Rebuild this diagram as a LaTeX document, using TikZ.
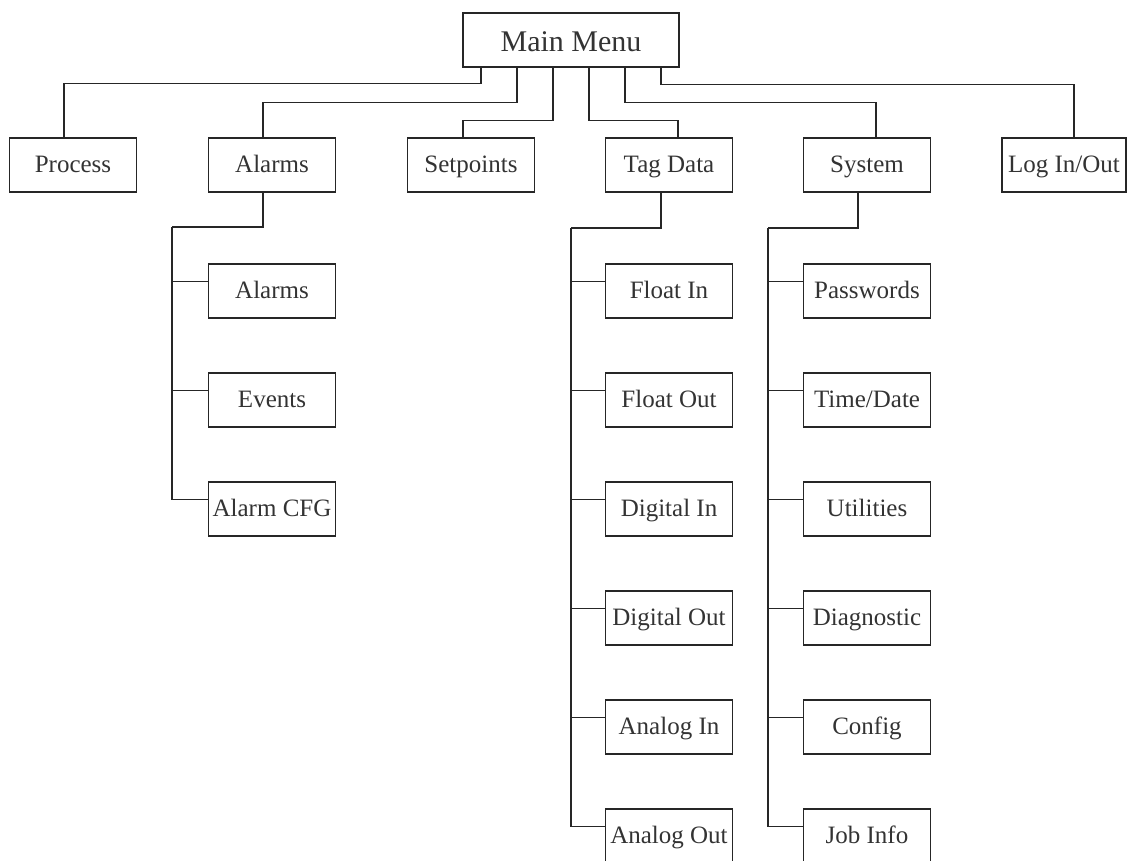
\documentclass[tikz,border=0pt]{standalone}
\usepackage{fontspec}
\setmainfont{Liberation Serif}
\usepackage{tikz}

\begin{document}
\begin{tikzpicture}[x=1pt,y=-1pt,
	menubox/.style={rectangle,draw=black!85,line width=1.2pt,minimum width=127pt,minimum height=54pt,inner sep=0pt,text height=18pt,text depth=4pt,text=black!80,font=\fontsize{25}{30}\selectfont},
	link/.style={draw=black!85,line width=1.2pt}]
		\useasboundingbox (0,0) rectangle (1127,860);

		\node[menubox,minimum width=216pt,text height=24pt,text depth=1pt,font=\fontsize{30}{36}\selectfont] (main) at (571,40) {Main Menu};

		\node[menubox] (process) at (73,165) {Process};
		\node[menubox] (alarms) at (272,165) {Alarms};
		\node[menubox] (setpoints) at (471,165) {Setpoints};
		\node[menubox] (tagdata) at (669,165) {Tag Data};
		\node[menubox] (system) at (867,165) {System};
		\node[menubox,minimum width=124pt] (login) at (1064,165) {Log In/Out};

		\node[menubox] (alarmlist) at (272,291) {Alarms};
		\node[menubox] (events) at (272,400) {Events};
		\node[menubox] (alarmcfg) at (272,509) {Alarm CFG};

		\node[menubox] (floatin) at (669,291) {Float In};
		\node[menubox] (floatout) at (669,400) {Float Out};
		\node[menubox] (digitalin) at (669,509) {Digital In};
		\node[menubox] (digitalout) at (669,618) {Digital Out};
		\node[menubox] (analogin) at (669,727) {Analog In};
		\node[menubox] (analogout) at (669,836) {Analog Out};

		\node[menubox] (passwords) at (867,291) {Passwords};
		\node[menubox] (timedate) at (867,400) {Time/Date};
		\node[menubox] (utilities) at (867,509) {Utilities};
		\node[menubox] (diagnostic) at (867,618) {Diagnostic};
		\node[menubox] (config) at (867,727) {Config};
		\node[menubox] (jobinfo) at (867,836) {Job Info};

		\draw[link] ([xshift=-90]main.south) -- ++(0,16) -| ([xshift=-9]process.north);
		\draw[link] ([xshift=-54]main.south) -- ++(0,35) -| ([xshift=-9]alarms.north);
		\draw[link] ([xshift=-18]main.south) -- ++(0,53) -| ([xshift=-8]setpoints.north);
		\draw[link] ([xshift=18]main.south) -- ++(0,53) -| ([xshift=9]tagdata.north);
		\draw[link] ([xshift=54]main.south) -- ++(0,35) -| ([xshift=9]system.north);
		\draw[link] ([xshift=90]main.south) -- ++(0,17) -| ([xshift=10]login.north);

		\coordinate (alarmspine) at (172,227);
		\draw[link] ([xshift=-9]alarms.south) |- (alarmspine);
		\draw[link] (alarmspine) |- ([yshift=9.5]alarmlist.west);
		\draw[link] (alarmspine) |- ([yshift=9.5]events.west);
		\draw[link] (alarmspine) |- ([yshift=9.5]alarmcfg.west);

		\coordinate (tagspine) at (571,228);
		\draw[link] ([xshift=-8]tagdata.south) |- (tagspine);
		\draw[link] (tagspine) |- ([yshift=9.5]floatin.west);
		\draw[link] (tagspine) |- ([yshift=9.5]floatout.west);
		\draw[link] (tagspine) |- ([yshift=9.5]digitalin.west);
		\draw[link] (tagspine) |- ([yshift=9.5]digitalout.west);
		\draw[link] (tagspine) |- ([yshift=9.5]analogin.west);
		\draw[link] (tagspine) |- ([yshift=9.5]analogout.west);

		\coordinate (systemspine) at (768,228);
		\draw[link] ([xshift=-9]system.south) |- (systemspine);
		\draw[link] (systemspine) |- ([yshift=9.5]passwords.west);
		\draw[link] (systemspine) |- ([yshift=9.5]timedate.west);
		\draw[link] (systemspine) |- ([yshift=9.5]utilities.west);
		\draw[link] (systemspine) |- ([yshift=9.5]diagnostic.west);
		\draw[link] (systemspine) |- ([yshift=9.5]config.west);
		\draw[link] (systemspine) |- ([yshift=9.5]jobinfo.west);
	\end{tikzpicture}
\end{document}
